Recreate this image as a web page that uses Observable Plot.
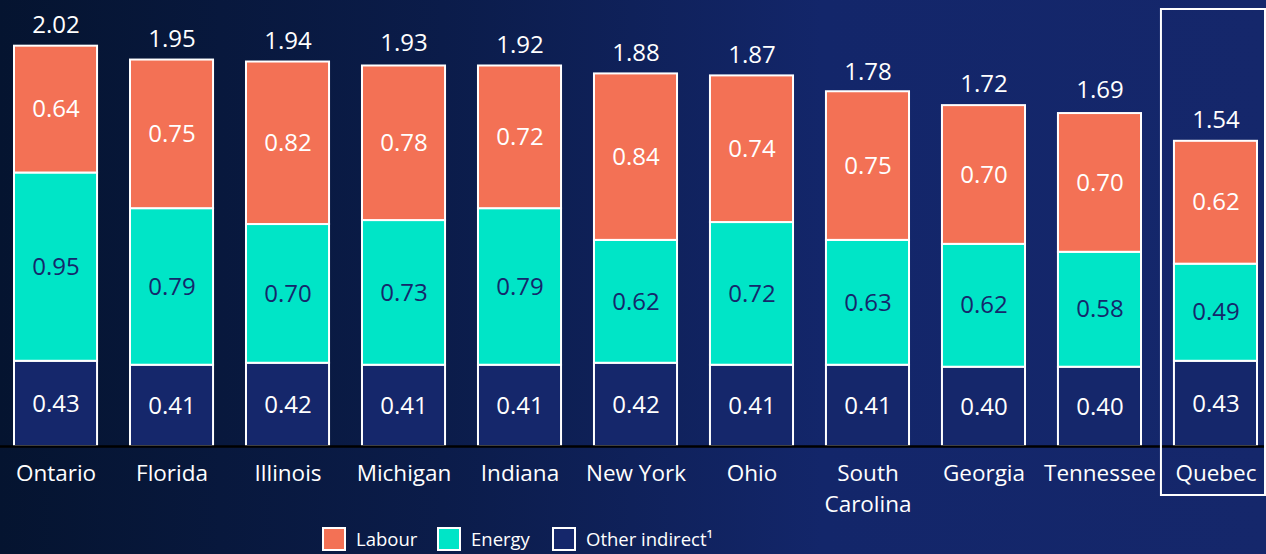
<!DOCTYPE html>
<html>
<head>
<meta charset="utf-8">
<script src="https://cdn.jsdelivr.net/npm/d3@7"></script>
<script src="https://cdn.jsdelivr.net/npm/@observablehq/plot@0.6"></script>
<style>
  html, body { margin: 0; padding: 0; }
  body {
    width: 1266px; height: 554px; overflow: hidden;
    background: linear-gradient(to right, #051430 0%, #0b1c4a 35%, #13266a 65%, #15276b 100%);
    font-family: "Open Sans", "Noto Sans", sans-serif;
  }
  #chart svg { display: block; overflow: visible; }
  #legend { position: relative; height: 34px; }
  .item { position: absolute; top: 6px; display: flex; align-items: center; color: #fff; font-size: 18.5px; }
  .sw { width: 20px; height: 20px; border: 2px solid #fff; margin-right: 10px; }
</style>
</head>
<body>
<div id="chart"></div>
<div id="legend"></div>
<script>
const regions = ["Ontario", "Florida", "Illinois", "Michigan", "Indiana", "New York", "Ohio", "South Carolina", "Georgia", "Tennessee", "Quebec"];
const tickLabels = ["Ontario", "Florida", "Illinois", "Michigan", "Indiana", "New York", "Ohio", "South\nCarolina", "Georgia", "Tennessee", "Quebec"];
const otherIndirect = [0.43, 0.41, 0.42, 0.41, 0.41, 0.42, 0.41, 0.41, 0.40, 0.40, 0.43];
const energy = [0.95, 0.79, 0.70, 0.73, 0.79, 0.62, 0.72, 0.63, 0.62, 0.58, 0.49];
const labour = [0.64, 0.75, 0.82, 0.78, 0.72, 0.84, 0.74, 0.75, 0.70, 0.70, 0.62];
const totals = [2.02, 1.95, 1.94, 1.93, 1.92, 1.88, 1.87, 1.78, 1.72, 1.69, 1.54];
const highlighted = ["Quebec"];

const seriesNames = ["Other indirect", "Energy", "Labour"];
const seriesColors = ["#15276b", "#00e5c7", "#f37155"];
const seriesText = ["#ffffff", "#15276b", "#ffffff"];
const legendLabels = ["Labour", "Energy", "Other indirect\u00b9"];
const legendColors = ["#f37155", "#00e5c7", "#15276b"];

const rows = [];
regions.forEach((r, i) => {
  [otherIndirect[i], energy[i], labour[i]].forEach((v, k) => {
    rows.push({region: r, series: seriesNames[k], value: v});
  });
});
const totalRows = regions.map((r, i) => ({region: r, total: totals[i]}));
const labelOf = Object.fromEntries(regions.map((r, i) => [r, tickLabels[i]]));

const stackOpts = {x: "region", y: "value", fill: "series", order: seriesNames};

const chart = Plot.plot({
  width: 1266,
  height: 520,
  marginLeft: 14,
  marginRight: 9,
  marginTop: 10,
  marginBottom: 74,
  style: {background: "transparent", fontFamily: "'Open Sans', 'Noto Sans', sans-serif", color: "#fff", overflow: "visible"},
  x: {domain: regions, paddingInner: 0.284, paddingOuter: 0, round: false},
  y: {domain: [0, 2.2], axis: null},
  color: {domain: seriesNames, range: seriesColors},
  marks: [
    Plot.barY(rows, {...stackOpts, stroke: "#ffffff", strokeWidth: 2}),
    Plot.text(rows, Plot.stackY({
      ...stackOpts, y: "value",
      text: d => d.value.toFixed(2),
      fill: d => seriesText[seriesNames.indexOf(d.series)],
      fontSize: 24
    })),
    Plot.text(totalRows, {x: "region", y: "total", text: d => d.total.toFixed(2), dy: -21, fill: "#fff", fontSize: 24}),
    Plot.ruleY([0], {stroke: "#000", strokeWidth: 2.5, insetLeft: -14, insetRight: -9}),
    Plot.axisX({tickSize: 0, tickPadding: 12, fontSize: 22.5, lineHeight: 1.4, fill: "#fff", tickFormat: d => labelOf[d], label: null})
  ]
});

// highlight box around Quebec, positioned from the x scale
const xs = chart.scale("x");
const svg = d3.select(chart);
highlighted.forEach(h => {
  const x0 = xs.apply(h);
  svg.append("rect")
    .attr("x", x0 - 13).attr("y", 9)
    .attr("width", xs.bandwidth + 21).attr("height", 486)
    .attr("fill", "none").attr("stroke", "#fff").attr("stroke-width", 2);
});
document.getElementById("chart").append(chart);

const legend = document.getElementById("legend");
const lefts = [322, 437, 552];
legendLabels.forEach((l, i) => {
  const it = document.createElement("div");
  it.className = "item";
  it.style.left = lefts[i] + "px";
  it.innerHTML = `<div class="sw" style="background:${legendColors[i]}"></div><span>${l}</span>`;
  legend.append(it);
});
</script>
</body>
</html>
